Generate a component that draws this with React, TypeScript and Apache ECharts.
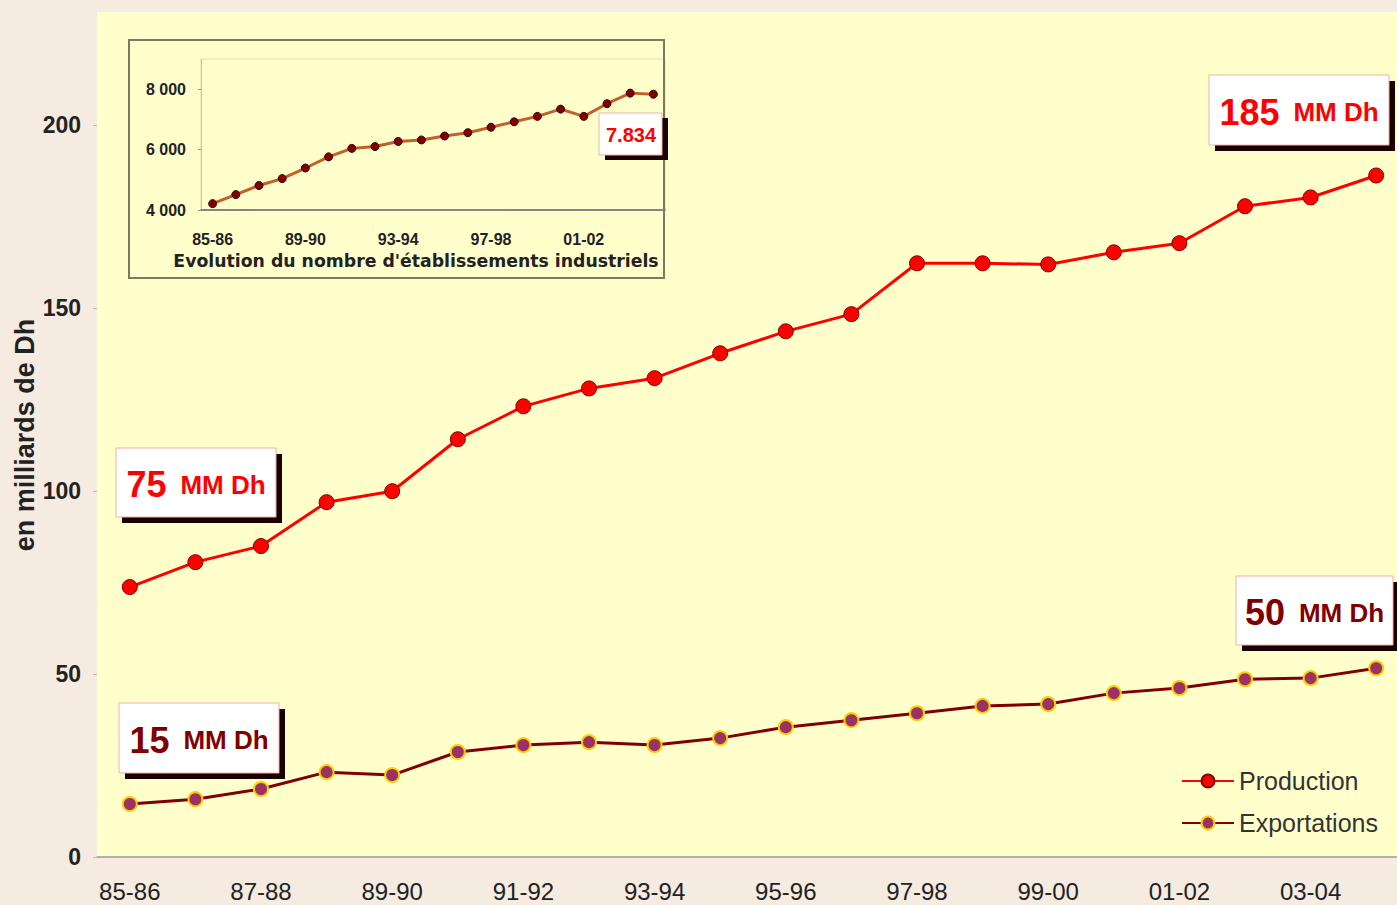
import React, { useEffect, useRef } from "react";
import * as echarts from "echarts";

const categories = [
  "85-86", "86-87", "87-88", "88-89", "89-90", "90-91", "91-92", "92-93", "93-94", "94-95",
  "95-96", "96-97", "97-98", "98-99", "99-00", "00-01", "01-02", "02-03", "03-04", "04-05",
];
const production = [73.8, 80.6, 85.0, 97.0, 100.0, 114.2, 123.2, 128.1, 130.9, 137.7,
  143.7, 148.4, 162.3, 162.3, 162.0, 165.3, 167.8, 177.9, 180.3, 186.3];
const exportations = [14.5, 15.8, 18.6, 23.2, 22.4, 28.7, 30.6, 31.4, 30.6, 32.5,
  35.5, 37.4, 39.3, 41.3, 41.8, 44.8, 46.2, 48.6, 48.9, 51.6];
const etablissements = [4210, 4510, 4810, 5040, 5390, 5760, 6040, 6100, 6270, 6320,
  6450, 6560, 6740, 6920, 7100, 7340, 7100, 7520, 7870, 7834];
const yTicksMain = [0, 50, 100, 150, 200];
const yTicksInset = [4000, 6000, 8000];

const FONT = "'Liberation Sans', Arial, sans-serif";
const WIDE = "'DejaVu Sans', Verdana, sans-serif";

function annotation(x: number, y: number, w: number, h: number, big: string, color: string) {
  return {
    type: "group",
    z: 50,
    children: [
      { type: "rect", z: 50, shape: { x: x + 6, y: y + 6, width: w, height: h }, style: { fill: "#1a0000" } },
      { type: "rect", z: 51, shape: { x, y, width: w, height: h }, style: { fill: "#ffffff", stroke: "#f0b0a8", lineWidth: 1 } },
      {
        type: "text",
        z: 52,
        x: x + w / 2,
        y: y + h / 2 + 2,
        style: {
          text: `{a|${big}}{b|MM Dh}`,
          align: "center",
          verticalAlign: "middle",
          rich: {
            a: { fontSize: 36, fontWeight: "bold", fill: color, fontFamily: FONT },
            b: { fontSize: 26, fontWeight: "bold", fill: color, fontFamily: FONT, padding: [0, 0, 0, 14] },
          },
        },
      },
    ],
  };
}

export default function App() {
  const ref = useRef<HTMLDivElement>(null);
  useEffect(() => {
    if (!ref.current) return;
    const chart = echarts.init(ref.current, null, { renderer: "svg" });
    chart.setOption({
      animation: false,
      backgroundColor: "#f5ebe1",
      textStyle: { fontFamily: FONT },
      grid: [
        { left: 97, top: 12, width: 1312, height: 845, show: true, backgroundColor: "#ffffcc", borderWidth: 0, outerBoundsMode: "none", containLabel: false },
        { left: 201, top: 59, width: 464, height: 151, show: true, backgroundColor: "transparent", borderColor: "#dcdcb4", borderWidth: 1, outerBoundsMode: "none", containLabel: false },
      ],
      legend: {
        data: ["Production", "Exportations"],
        orient: "vertical",
        left: 1176,
        top: 762,
        itemWidth: 52,
        itemHeight: 16,
        itemGap: 14,
        textStyle: { fontSize: 25, color: "#333", fontFamily: FONT, lineHeight: 28 },
      },
      xAxis: [
        {
          type: "category",
          gridIndex: 0,
          data: categories,
          boundaryGap: true,
          axisLine: { lineStyle: { color: "#999", width: 1.5 } },
          axisTick: { interval: 0, length: 6, lineStyle: { color: "#888" } },
          axisLabel: { interval: 1, fontSize: 24, color: "#222", margin: 22, fontFamily: FONT },
        },
        {
          type: "category",
          gridIndex: 1,
          data: categories,
          boundaryGap: true,
          axisLine: { lineStyle: { color: "#666", width: 1.5 } },
          axisTick: { interval: 0, length: 4, lineStyle: { color: "#666" } },
          axisLabel: { interval: 3, fontSize: 16, fontWeight: "bold", color: "#222", margin: 21, fontFamily: FONT },
        },
      ],
      yAxis: [
        {
          type: "value",
          gridIndex: 0,
          min: 0,
          max: 231,
          interval: 50,
          axisLine: { show: false },
          axisTick: { show: true, length: 4, lineStyle: { color: "#bbb" }, customValues: yTicksMain },
          splitLine: { show: false },
          axisLabel: {
            fontSize: 23,
            fontWeight: "bold",
            color: "#222",
            margin: 16,
            fontFamily: FONT,
            customValues: yTicksMain,
            formatter: (v: number) => (yTicksMain.includes(v) ? String(v) : ""),
          },
        },
        {
          type: "value",
          gridIndex: 1,
          min: 4000,
          max: 9000,
          interval: 2000,
          axisLine: { show: true, lineStyle: { color: "#c8c8a0" } },
          axisTick: { show: true, length: 3, lineStyle: { color: "#999" }, customValues: yTicksInset },
          splitLine: { show: false },
          axisLabel: {
            fontSize: 16,
            fontWeight: "bold",
            color: "#222",
            margin: 15,
            fontFamily: FONT,
            customValues: yTicksInset,
            formatter: (v: number) => (yTicksInset.includes(v) ? `${v / 1000} 000` : ""),
          },
        },
      ],
      series: [
        {
          name: "Production",
          type: "line",
          xAxisIndex: 0,
          yAxisIndex: 0,
          data: production,
          symbol: "circle",
          symbolSize: 15,
          lineStyle: { color: "#ff0000", width: 3 },
          itemStyle: { color: "#ff0000", borderColor: "#800000", borderWidth: 1 },
          z: 5,
        },
        {
          name: "Exportations",
          type: "line",
          xAxisIndex: 0,
          yAxisIndex: 0,
          data: exportations,
          symbol: "circle",
          symbolSize: 14,
          lineStyle: { color: "#800000", width: 3 },
          itemStyle: { color: "#993366", borderColor: "#ffcc00", borderWidth: 2 },
          z: 5,
        },
        {
          name: "Etablissements",
          type: "line",
          xAxisIndex: 1,
          yAxisIndex: 1,
          data: etablissements,
          symbol: "circle",
          symbolSize: 8,
          lineStyle: { color: "#c0602a", width: 3 },
          itemStyle: { color: "#800000", borderColor: "#400000", borderWidth: 1 },
          z: 5,
        },
      ],
      graphic: [
        {
          type: "text",
          z: 10,
          x: 25,
          y: 435,
          rotation: Math.PI / 2,
          style: {
            text: "en milliards de Dh",
            align: "center",
            verticalAlign: "middle",
            fontSize: 27,
            fontWeight: "bold",
            fill: "#222",
            fontFamily: FONT,
          },
        },
        {
          type: "rect",
          z: 10,
          shape: { x: 129, y: 40, width: 535, height: 238 },
          style: { fill: "none", stroke: "#7a7a62", lineWidth: 2 },
        },
        {
          type: "text",
          z: 10,
          x: 416,
          y: 261,
          style: {
            text: "Evolution du nombre d'établissements industriels",
            align: "center",
            verticalAlign: "middle",
            fontSize: 17.3,
            fontWeight: "bold",
            fill: "#222",
            fontFamily: WIDE,
          },
        },
        {
          type: "group",
          z: 50,
          children: [
            { type: "rect", z: 50, shape: { x: 605, y: 118, width: 63, height: 42 }, style: { fill: "#1a0000" } },
            { type: "rect", z: 51, shape: { x: 599, y: 113, width: 63, height: 42 }, style: { fill: "#ffffff", stroke: "#f0b0a8", lineWidth: 1 } },
            {
              type: "text",
              z: 52,
              x: 631,
              y: 135,
              style: { text: "7.834", align: "center", verticalAlign: "middle", fontSize: 20, fontWeight: "bold", fill: "#ff0000", fontFamily: FONT },
            },
          ],
        },
        annotation(1209, 75, 180, 70, "185", "#ff0000"),
        annotation(116, 448, 160, 69, "75", "#ff0000"),
        annotation(1236, 576, 157, 69, "50", "#800000"),
        annotation(119, 703, 160, 70, "15", "#800000"),
      ],
    });
    return () => chart.dispose();
  }, []);
  return <div ref={ref} style={{ position: "absolute", left: 0, top: 0, width: 1397, height: 905 }} />;
}
